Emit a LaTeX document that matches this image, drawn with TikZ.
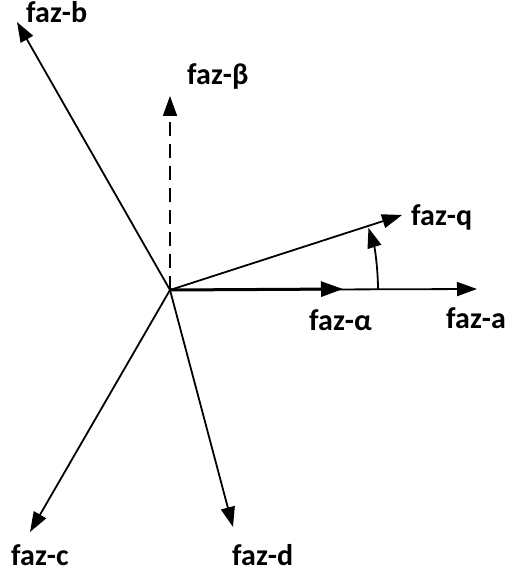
\documentclass[tikz,border=0pt]{standalone}
\usepackage{fontspec}
\setsansfont{Carlito}
\usetikzlibrary{arrows.meta}

\begin{document}
\begin{tikzpicture}[
    x=1pt, y=-1pt,
    label/.style={font=\sffamily\bfseries\fontsize{30}{32}\selectfont, inner sep=0pt, anchor=base west},
    vec/.style={-{Triangle[length=20pt,width=14pt]}, line width=1.8pt},
    thickvec/.style={-{Triangle[length=22pt,width=15pt]}, line width=3pt}
]
    \useasboundingbox (0,0) rectangle (508,575);

    \coordinate (origin) at (170,290);
    \coordinate (tipa) at (477,289);
    \coordinate (tipalpha) at (343,289);
    \coordinate (tipq) at (402,215);
    \coordinate (tipb) at (17,22);
    \coordinate (tipbeta) at (170,96);
    \coordinate (tipc) at (30,532);
    \coordinate (tipd) at (233,527);

    \node[label] (faza) at (446,328) {faz-a};
    \node[label] (fazalpha) at (309,330) {faz-α};
    \node[label] (fazq) at (411,225) {faz-q};
    \node[label] (fazb) at (26,23) {faz-b};
    \node[label] (fazbeta) at (187,85) {faz-β};
    \node[label] (fazc) at (11,565) {faz-c};
    \node[label] (fazd) at (232,565) {faz-d};

    \draw[vec] (origin) -- (tipa);
    \draw[thickvec] (origin) -- (tipalpha);
    \draw[vec] (origin) -- (tipq);
    \draw[vec] (origin) -- (tipb);
    \draw[vec, dash pattern=on 14pt off 8pt] (origin) -- (tipbeta);
    \draw[vec] (origin) -- (tipc);
    \draw[vec] (origin) -- (tipd);

    % angle between faz-a and faz-q
    \draw[vec] (origin) ++(208,0) arc[start angle=0, end angle=-17.4, radius=208];
\end{tikzpicture}
\end{document}
